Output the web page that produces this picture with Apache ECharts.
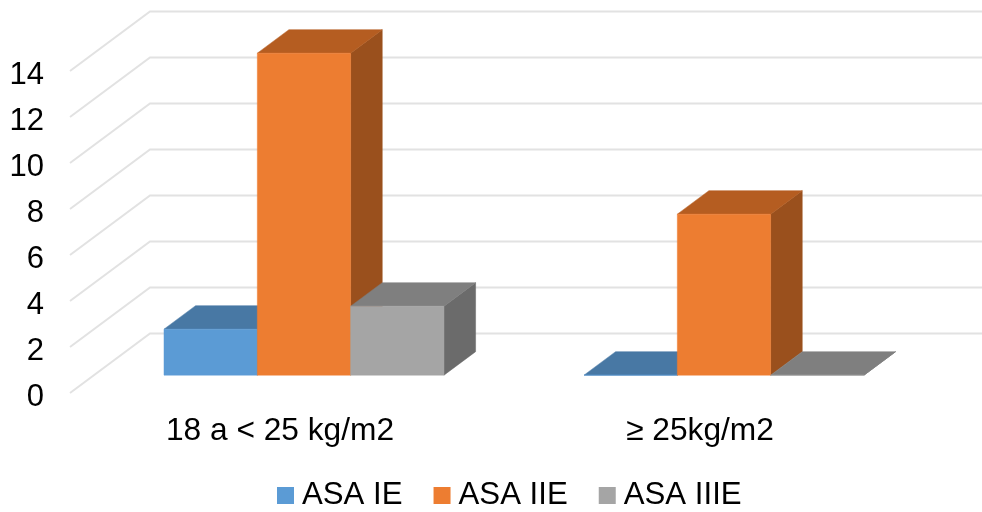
<!DOCTYPE html>
<html>
<head>
<meta charset="utf-8">
<style>html,body{margin:0;padding:0;background:#fff}#c{width:982px;height:512px}</style>
<script src="https://cdn.jsdelivr.net/npm/echarts@6/dist/echarts.min.js"></script>
</head>
<body>
<div id="c"></div>
<script>
const categories = ['18 a < 25 kg/m2', '≥ 25kg/m2'];
const asaIE = [2, 0];
const asaIIE = [14, 7];
const asaIIIE = [3, 0];
const yTicks = [0, 2, 4, 6, 8, 10, 12, 14];
const seriesNames = ['ASA IE', 'ASA IIE', 'ASA IIIE'];

const FONT = 'Liberation Sans, Arial, sans-serif';
const WALL_DX = 80, WALL_DY = 59.5;      // floor depth in pixels
const BAR_START = 0.3, BAR_DEPTH = 23.5 / 59.5; // bar position within the depth
const palette = [
  { front: '#5b9bd5', top: '#4878a4', side: '#3f6b94' },
  { front: '#ed7d31', top: '#b55d21', side: '#9a501d' },
  { front: '#a5a5a5', top: '#7f7f7f', side: '#6b6b6b' }
];

function wallItem(params, api) {
  const p = api.coord([0, api.value(0)]);
  const left = params.coordSys.x;
  const y = p[1];
  const style = { stroke: '#e2e2e2', lineWidth: 2, fill: null };
  return {
    type: 'polyline',
    shape: { points: [[left, y], [left + WALL_DX, y - WALL_DY], [982, y - WALL_DY]] },
    style: style, silent: true
  };
}

function barRenderer(seriesIndex) {
  return function (params, api) {
    const cat = api.value(0), val = api.value(1);
    const band = api.size([1, 0])[0];
    const w = band / 4.5;
    const c = api.coord([cat, val]);
    const base = api.coord([cat, 0]);
    const ox = WALL_DX * BAR_START, oy = WALL_DY * BAR_START;
    const dx = WALL_DX * BAR_DEPTH, dy = WALL_DY * BAR_DEPTH;
    const x0 = c[0] - 1.5 * w + seriesIndex * w + ox;
    const x1 = x0 + w;
    const yT = c[1] - oy, yB = base[1] - oy;
    const col = palette[seriesIndex];
    const poly = (pts, fill) => ({
      type: 'polygon', shape: { points: pts },
      style: { fill: fill, stroke: fill, lineWidth: 0.5 }
    });
    return {
      type: 'group',
      children: [
        poly([[x1, yB], [x1 + dx, yB - dy], [x1 + dx, yT - dy], [x1, yT]], col.side),
        poly([[x0, yT], [x0 + dx, yT - dy], [x1 + dx, yT - dy], [x1, yT]], col.top),
        poly([[x0, yB], [x1, yB], [x1, yT], [x0, yT]], col.front)
      ]
    };
  };
}

function barSeries(name, values, i) {
  return {
    name: name,
    type: 'custom',
    coordinateSystem: 'cartesian2d',
    renderItem: barRenderer(i),
    encode: { x: 0, y: 1 },
    data: values.map((v, k) => [k, v]),
    itemStyle: { color: palette[i].front },
    clip: false,
    z: 3 + i
  };
}

const chart = echarts.init(document.getElementById('c'), null, { renderer: 'canvas' });
chart.setOption({
  animation: false,
  backgroundColor: '#ffffff',
  grid: { left: 70, top: 71, width: 840, height: 322, containLabel: false },
  xAxis: {
    type: 'category',
    data: categories,
    axisLine: { show: false },
    axisTick: { show: false },
    axisLabel: { fontFamily: FONT, fontSize: 31.7, color: '#000', margin: 22 }
  },
  yAxis: {
    type: 'value',
    min: 0, max: 14, interval: 2,
    axisLine: { show: false },
    axisTick: { show: false },
    splitLine: { show: false },
    axisLabel: {
      margin: 26,
      formatter: '{a|{value}}',
      rich: { a: { fontFamily: FONT, fontSize: 31, color: '#000', padding: [8, 0, 0, 0] } }
    }
  },
  legend: {
    data: seriesNames,
    top: 480,
    left: 277,
    padding: 0,
    icon: 'rect',
    itemWidth: 17,
    itemHeight: 17,
    itemGap: 31,
    textStyle: { fontFamily: FONT, fontSize: 31.2, color: '#000', padding: [0, 0, 0, 3] }
  },
  series: [
    {
      type: 'custom',
      name: 'walls',
      renderItem: wallItem,
      encode: { y: 0 },
      data: yTicks.map(v => [v]),
      silent: true,
      clip: false,
      z: 1
    },
    barSeries(seriesNames[0], asaIE, 0),
    barSeries(seriesNames[1], asaIIE, 1),
    barSeries(seriesNames[2], asaIIIE, 2)
  ]
});
</script>
</body>
</html>
